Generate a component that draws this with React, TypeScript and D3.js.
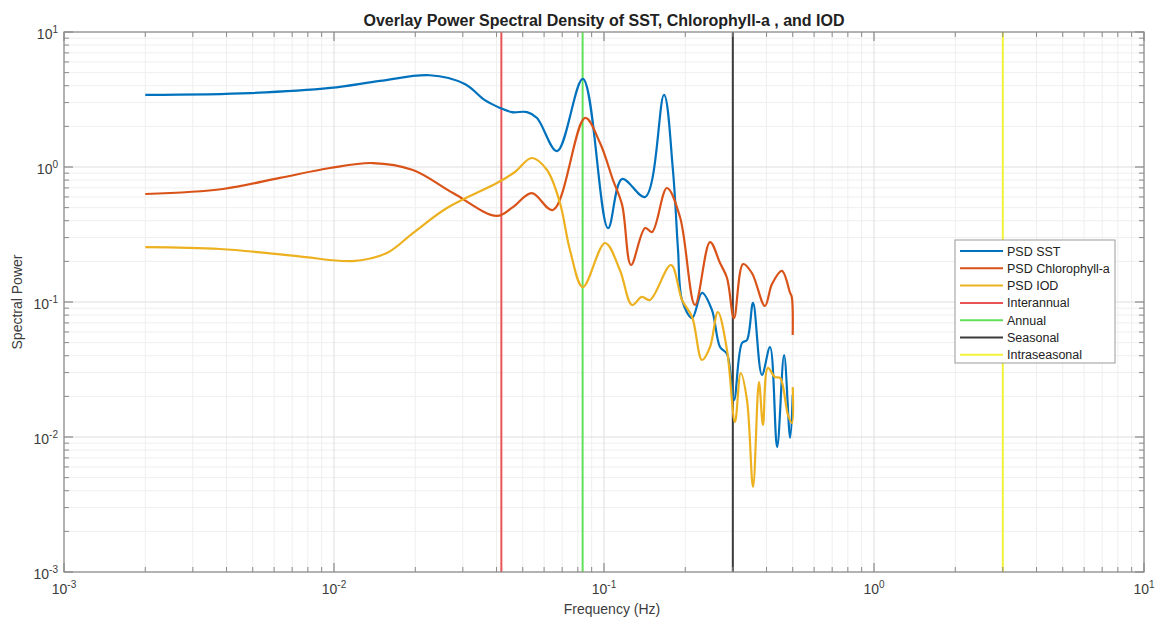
import React, { useEffect } from 'react';
import * as d3 from 'd3';

// frequency (Hz) and power
const sstFreq = [0.002, 0.0049, 0.0097, 0.0148, 0.0226, 0.0305, 0.0362, 0.0412, 0.0456, 0.0519, 0.0565, 0.067, 0.0835, 0.1035, 0.1167, 0.142, 0.1668, 0.18, 0.188, 0.1945, 0.212, 0.2307, 0.251, 0.269, 0.2855, 0.303, 0.3245, 0.3385, 0.3565, 0.3845, 0.412, 0.4377, 0.4645, 0.489, 0.5];
const sstPower = [3.42, 3.53, 3.85, 4.34, 4.78, 4.12, 3.13, 2.74, 2.55, 2.55, 2.31, 1.31, 4.49, 0.353, 0.815, 0.6, 3.42, 0.95, 0.243, 0.1035, 0.076, 0.1167, 0.0873, 0.0464, 0.0412, 0.0188, 0.0497, 0.0523, 0.0984, 0.0288, 0.0464, 0.00843, 0.0405, 0.00983, 0.0205];

const chlFreq = [0.002, 0.00388, 0.0063, 0.00966, 0.0139, 0.0196, 0.0276, 0.0401, 0.046, 0.054, 0.0647, 0.0851, 0.0966, 0.108, 0.1167, 0.1259, 0.142, 0.1507, 0.171, 0.1912, 0.2173, 0.247, 0.269, 0.2855, 0.303, 0.3274, 0.353, 0.3945, 0.419, 0.456, 0.489, 0.496, 0.5];
const chlPower = [0.631, 0.687, 0.83, 0.983, 1.07, 0.95, 0.641, 0.434, 0.505, 0.641, 0.48, 2.31, 1.51, 0.8, 0.524, 0.188, 0.353, 0.33, 0.699, 0.426, 0.095, 0.278, 0.1945, 0.1507, 0.076, 0.191, 0.164, 0.0934, 0.136, 0.17, 0.1167, 0.109, 0.057];

const iodFreq = [0.002, 0.00378, 0.0073, 0.01175, 0.0157, 0.0196, 0.0262, 0.0401, 0.0468, 0.054, 0.0615, 0.0687, 0.0748, 0.0835, 0.1009, 0.1145, 0.127, 0.138, 0.148, 0.177, 0.1945, 0.212, 0.2307, 0.247, 0.264, 0.2855, 0.3055, 0.321, 0.3385, 0.3565, 0.375, 0.388, 0.4045, 0.4295, 0.449, 0.48, 0.497, 0.5];
const iodPower = [0.255, 0.247, 0.219, 0.201, 0.231, 0.324, 0.497, 0.761, 0.918, 1.166, 0.95, 0.541, 0.243, 0.129, 0.2736, 0.1726, 0.095, 0.109, 0.1035, 0.188, 0.1035, 0.0774, 0.0372, 0.0464, 0.0843, 0.044, 0.0129, 0.0298, 0.0188, 0.00427, 0.0255, 0.0123, 0.0325, 0.0278, 0.0274, 0.0146, 0.0127, 0.0234];

// reference bands (Hz)
const bandNames = ['Interannual', 'Annual', 'Seasonal', 'Intraseasonal'];
const bandFreq = [1 / 24, 1 / 12, 0.3, 3];
const bandColors = ['#ea5455', '#62e05a', '#3a3a3a', '#f3f33a'];

const seriesNames = ['PSD SST', 'PSD Chlorophyll-a', 'PSD IOD'];
const seriesColors = ['#0072BD', '#D95319', '#EDB120'];

const decades = [-3, -2, -1, 0, 1];

const W = 1156;
const H = 623;
const font = '"Liberation Sans", Arial, Helvetica, sans-serif';

export default function App() {
  useEffect(() => {
    document.body.style.margin = '0';
  }, []);

  const x = d3.scaleLog().domain([1e-3, 1e1]).range([64, 1144]);
  const y = d3.scaleLog().domain([1e-3, 1e1]).range([572, 32]);
  const [x0, x1] = x.range();
  const [y0, y1] = y.range();

  const minor: number[] = [];
  decades.slice(0, -1).forEach(d => {
    for (let k = 2; k <= 9; k++) minor.push(k * Math.pow(10, d));
  });
  const major = decades.map(d => Math.pow(10, d));

  const line = d3.line<[number, number]>()
    .x(d => x(d[0]))
    .y(d => y(d[1]))
    .curve(d3.curveCatmullRom.alpha(0.5));

  const series = [
    sstFreq.map((f, i) => [f, sstPower[i]] as [number, number]),
    chlFreq.map((f, i) => [f, chlPower[i]] as [number, number]),
    iodFreq.map((f, i) => [f, iodPower[i]] as [number, number]),
  ];

  const legendItems = [
    ...seriesNames.map((n, i) => ({ name: n, color: seriesColors[i] })),
    ...bandNames.map((n, i) => ({ name: n, color: bandColors[i] })),
  ];

  const axisColor = '#8a8a8a';
  const textColor = '#3c3c3c';

  return (
    <svg width={W} height={H} style={{ display: 'block', background: '#fff', fontFamily: font }}>
      {/* minor grid */}
      {minor.map(v => (
        <g key={'mg' + v}>
          <line x1={x(v)} x2={x(v)} y1={y1} y2={y0} stroke="#efefef" strokeWidth={1} />
          <line x1={x0} x2={x1} y1={y(v)} y2={y(v)} stroke="#efefef" strokeWidth={1} />
        </g>
      ))}
      {/* major grid */}
      {major.map(v => (
        <g key={'Mg' + v}>
          <line x1={x(v)} x2={x(v)} y1={y1} y2={y0} stroke="#dedede" strokeWidth={1} />
          <line x1={x0} x2={x1} y1={y(v)} y2={y(v)} stroke="#dedede" strokeWidth={1} />
        </g>
      ))}

      {/* band markers */}
      {bandFreq.map((f, i) => (
        <line key={bandNames[i]} x1={x(f)} x2={x(f)} y1={y1} y2={y0} stroke={bandColors[i]} strokeWidth={2} />
      ))}

      {/* spectra */}
      {series.map((s, i) => (
        <path key={seriesNames[i]} d={line(s) || ''} fill="none" stroke={seriesColors[i]} strokeWidth={2.2} strokeLinejoin="round" />
      ))}

      {/* axes box */}
      <rect x={x0} y={y1} width={x1 - x0} height={y0 - y1} fill="none" stroke={axisColor} strokeWidth={1.2} />

      {/* ticks */}
      {major.map(v => (
        <g key={'Mt' + v} stroke={axisColor} strokeWidth={1.2}>
          <line x1={x(v)} x2={x(v)} y1={y0} y2={y0 - 9} />
          <line x1={x(v)} x2={x(v)} y1={y1} y2={y1 + 9} />
          <line x1={x0} x2={x0 + 9} y1={y(v)} y2={y(v)} />
          <line x1={x1} x2={x1 - 9} y1={y(v)} y2={y(v)} />
        </g>
      ))}
      {minor.map(v => (
        <g key={'mt' + v} stroke={axisColor} strokeWidth={1}>
          <line x1={x(v)} x2={x(v)} y1={y0} y2={y0 - 5} />
          <line x1={x(v)} x2={x(v)} y1={y1} y2={y1 + 5} />
          <line x1={x0} x2={x0 + 5} y1={y(v)} y2={y(v)} />
          <line x1={x1} x2={x1 - 5} y1={y(v)} y2={y(v)} />
        </g>
      ))}

      {/* tick labels */}
      {decades.map(d => (
        <text key={'xl' + d} x={x(Math.pow(10, d))} y={y0 + 22} textAnchor="middle" fontSize={14} fill={textColor}>
          10<tspan fontSize={10} dy={-6}>{d}</tspan>
        </text>
      ))}
      {decades.map(d => (
        <text key={'yl' + d} x={x0 - 6} y={y(Math.pow(10, d)) + 7} textAnchor="end" fontSize={14} fill={textColor}>
          10<tspan fontSize={10} dy={-6}>{d}</tspan>
        </text>
      ))}

      {/* title and axis labels */}
      <text x={(x0 + x1) / 2} y={26} textAnchor="middle" fontSize={16} fontWeight="bold" fill="#222">
        Overlay Power Spectral Density of SST, Chlorophyll-a , and IOD
      </text>
      <text x={(x0 + x1) / 2 + 8} y={614} textAnchor="middle" fontSize={14} fill={textColor}>
        Frequency (Hz)
      </text>
      <text transform={`translate(22,${(y0 + y1) / 2}) rotate(-90)`} textAnchor="middle" fontSize={14} fill={textColor}>
        Spectral Power
      </text>

      {/* legend */}
      <g transform="translate(955,240)">
        <rect x={0} y={0} width={160} height={123} fill="#fff" stroke="#9a9a9a" strokeWidth={1} />
        {legendItems.map((it, i) => (
          <g key={it.name} transform={`translate(0,${11 + i * 17.3})`}>
            <line x1={5} x2={48} y1={0} y2={0} stroke={it.color} strokeWidth={2} />
            <text x={52} y={4.5} fontSize={12.5} fill="#222">{it.name}</text>
          </g>
        ))}
      </g>
    </svg>
  );
}
